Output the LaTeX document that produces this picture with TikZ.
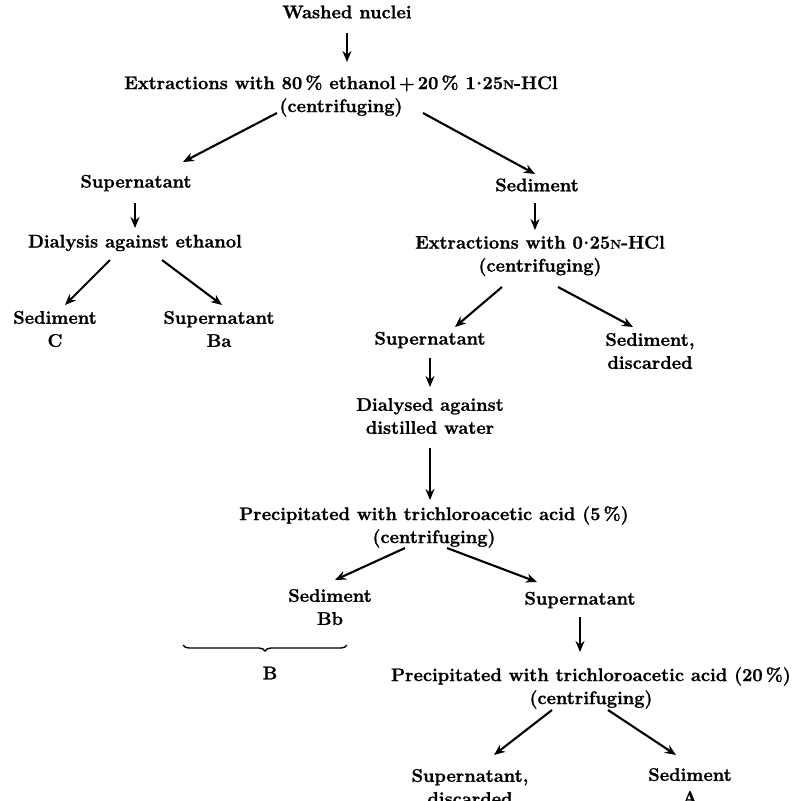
\documentclass[tikz,border=0pt]{standalone}
\usepackage{fontspec}
\setmainfont{Latin Modern Roman}[BoldFeatures={FakeBold=1.2}]
\usetikzlibrary{arrows.meta,calc,decorations.pathreplacing}
\begin{document}
\begin{tikzpicture}[x=1pt,y=-1pt,
  lbl/.style={inner sep=0pt,align=center,font=\fontsize{18.3}{23}\selectfont\bfseries},
  arr/.style={line width=2.1pt,-{Stealth[length=11pt,width=9pt]}}]
\useasboundingbox (0,0) rectangle (804,801);
\newcommand{\smN}{{\fontsize{12.5}{12.5}\selectfont N}}
\newcommand{\cdt}{\kern0.5pt\raisebox{0.55ex}{.}\kern0.5pt}
\node[lbl] (wash) at (347,12) {Washed nuclei};
\node[lbl] (ext1) at (341,96) {Extractions with 80\,\% ethanol\,+\,20\,\% 1\cdt25\smN-HCl\\(centrifuging)};
\node[lbl] (sup1) at (136,183) {Supernatant};
\node[lbl] (sed1) at (537,185) {Sediment};
\node[lbl] (dia) at (135,243) {Dialysis against ethanol};
\node[lbl] (sedC) at (55,329) {Sediment\\C};
\node[lbl] (supBa) at (219,329) {Supernatant\\Ba};
\node[lbl] (ext2) at (540,256) {Extractions with 0\cdt25\smN-HCl\\(centrifuging)};
\node[lbl] (sup2) at (430,340) {Supernatant};
\node[lbl] (sedD) at (650,351) {Sediment,\\discarded};
\node[lbl] (dial) at (430,416) {Dialysed against\\distilled water};
\node[lbl] (pre1) at (434,527) {Precipitated with trichloroacetic acid (5\,\%)\\(centrifuging)};
\node[lbl] (sedBb) at (330,607) {Sediment\\Bb};
\node[lbl] (sup3) at (580,600) {Supernatant};
\coordinate (brL) at (183,645);
\coordinate (brR) at (347,645);
\node[lbl] (B) at (270,673) {B};
\node[lbl] (pre2) at (591,688) {Precipitated with trichloroacetic acid (20\,\%)\\(centrifuging)};
\node[lbl] (supD) at (470,787) {Supernatant,\\discarded};
\node[lbl] (sedA) at (690,786) {Sediment\\A};
% connectors
\draw[arr] ($(wash.center)+(0,21)$) -- ($(ext1.center)+(6,-34)$);
\draw[arr] ($(ext1.center)+(-64,17)$) -- ($(sup1.center)+(47,-21)$);
\draw[arr] ($(ext1.center)+(82,17)$) -- ($(sed1.center)+(-2,-11)$);
\draw[arr] ($(sup1.center)+(-1,20)$) -- ($(dia.center)+(0,-15)$);
\draw[arr] ($(dia.center)+(-25,17)$) -- ($(sedC.center)+(10,-24)$);
\draw[arr] ($(dia.center)+(27,17)$) -- ($(supBa.center)+(3,-24)$);
\draw[arr] ($(sed1.center)+(-2,18)$) -- ($(ext2.center)+(-5,-26)$);
\draw[arr] ($(ext2.center)+(-38,31)$) -- ($(sup2.center)+(25,-13)$);
\draw[arr] ($(ext2.center)+(18,31)$) -- ($(sedD.center)+(-17,-24)$);
\draw[arr] ($(sup2.center)+(0,18)$) -- ($(dial.center)+(0,-29)$);
\draw[arr] ($(dial.center)+(0,32)$) -- ($(pre1.center)+(-4,-27)$);
\draw[arr] ($(pre1.center)+(-29,21)$) -- ($(sedBb.center)+(5,-27)$);
\draw[arr] ($(pre1.center)+(13,21)$) -- ($(sup3.center)+(-43,-18)$);
\draw[arr] ($(sup3.center)+(0,17)$) -- ($(pre2.center)+(-11,-36)$);
\draw[arr] ($(pre2.center)+(-39,22)$) -- ($(supD.center)+(24,-32)$);
\draw[arr] ($(pre2.center)+(17,22)$) -- ($(sedA.center)+(-14,-31)$);
\draw[line width=1.4pt,decorate,decoration={brace,amplitude=6pt,mirror}] (brL) -- (brR);
\end{tikzpicture}
\end{document}
